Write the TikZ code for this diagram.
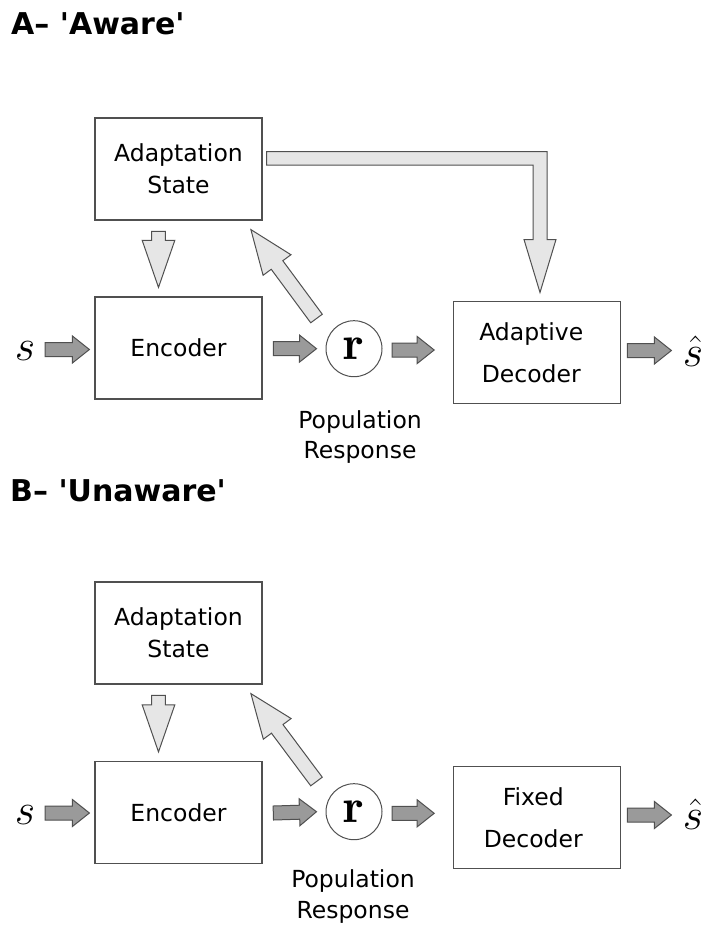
\RequirePackage{fix-cm}
\documentclass[tikz,border=0pt]{standalone}
\usepackage{fontspec}
\newfontfamily\lab{DejaVu Sans}[Ligatures=TeXOff]
\usetikzlibrary{calc}
\definecolor{edge}{HTML}{505050}
\definecolor{darkfill}{HTML}{9A9A9A}
\definecolor{lightfill}{HTML}{E6E6E6}
% block arrow: #1 style, #2 tail, #3 tip, #4 half shaft, #5 half head, #6 head length
\newcommand\blk[6]{%
  \coordinate (bkH) at ($(#3)!#6!(#2)$);
  \draw[#1] ($(#2)!#4!90:(#3)$) -- ($(bkH)!#4!90:(#3)$) -- ($(bkH)!#5!90:(#3)$) -- (#3)
    -- ($(bkH)!#5!-90:(#3)$) -- ($(bkH)!#4!-90:(#3)$) -- ($(#2)!#4!-90:(#3)$) -- cycle;}
\begin{document}
\begin{tikzpicture}[x=1pt,y=-1pt,
  box/.style={draw=edge,line width=1.2pt,minimum width=167pt,minimum height=102pt,align=center,inner sep=0pt},
  lab2/.style={font=\lab\fontsize{23.5}{32}\selectfont},
  lab3/.style={font=\lab\fontsize{23.5}{41.6}\selectfont},
  ttl/.style={anchor=west,inner sep=0pt,font=\lab\bfseries\fontsize{30}{30}\selectfont},
  rnode/.style={circle,draw=edge,line width=1pt,minimum size=56pt,inner sep=0pt,font=\fontsize{48}{48}\selectfont},
  mathlab/.style={anchor=base,inner sep=0pt,font=\fontsize{44}{44}\selectfont},
  pop/.style={align=center,inner sep=0pt,font=\lab\fontsize{23.5}{30.5}\selectfont},
  dark/.style={draw=edge,fill=darkfill,line width=1pt,line join=miter},
  light/.style={draw=edge,fill=lightfill,line width=1pt,line join=miter}]
\useasboundingbox[fill=white] (0,0) rectangle (712,937);

% ---------------- Panel A ----------------
\node[ttl] (tA) at (11,24) {A– 'Aware'};
\node[box,lab2] (adA) at (178.5,169) {Adaptation\\State};
\node[box,lab2] (encA) at (178.5,348) {Encoder};
\node[rnode] (rA) at (354,348.7) {$\mathbf{r}$};
\node[box,lab3] (decA) at (537.3,352.5) {\hspace*{-12pt}Adaptive\\\hspace*{-12pt}Decoder};
\node[mathlab] (sA) at (25,360) {$s$};
\node[mathlab] (shA) at (693,366) {$\hat{s}$};
\node[pop] (popA) at (360,437) {Population\\Response};

\coordinate (a1t) at ($(encA.west)+(-49.3,1.5)$);
\coordinate (a1h) at ($(encA.west)+(-5,1.5)$);
\blk{dark}{a1t}{a1h}{7pt}{13.5pt}{17pt}
\coordinate (a2t) at ($(encA.east)+(10.7,0.5)$);
\coordinate (a2h) at ($(rA.west)+(-9,0)$);
\blk{dark}{a2t}{a2h}{7pt}{13.5pt}{17pt}
\coordinate (a3t) at ($(rA.east)+(9.7,1.3)$);
\coordinate (a3h) at ($(decA.west)+(-19,-2.5)$);
\blk{dark}{a3t}{a3h}{7pt}{13.5pt}{17pt}
\coordinate (a4t) at ($(decA.east)+(6,-2)$);
\coordinate (a4h) at ($(decA.east)+(50,-2)$);
\blk{dark}{a4t}{a4h}{7pt}{13.5pt}{17pt}
\coordinate (a5t) at ($(adA.south)+(-20,10.7)$);
\coordinate (a5h) at ($(encA.north)+(-20,-9)$);
\blk{light}{a5t}{a5h}{6.8pt}{16.3pt}{47pt}
\coordinate (a6t) at ($(rA.center)+(-37.5,-30.2)$);
\coordinate (a6h) at ($(adA.south east)+(-11.7,9)$);
\blk{light}{a6t}{a6h}{7.2pt}{17.3pt}{44pt}
% elbow arrow from adaptation state to adaptive decoder
\coordinate (E0) at ($(adA.east)+(4,-10.7)$);
\coordinate (ET) at ($(decA.north)+(2.7,-8.4)$);
\coordinate (E1) at ($(E0)+(0,-6.7)$);
\coordinate (E4) at ($(E0)+(0,6.7)$);
\coordinate (E2) at ($(ET)+(7,-53)$);
\coordinate (E3) at ($(ET)+(-7,-53)$);
\draw[light] (E1) -- (E2 |- E1) -- (E2) -- ($(ET)+(16,-53)$) -- (ET) -- ($(ET)+(-16,-53)$) -- (E3) -- (E3 |- E4) -- (E4) -- cycle;

% ---------------- Panel B ----------------
\node[ttl] (tB) at (10,491) {B– 'Unaware'};
\node[box,lab2] (adB) at (178.5,633) {Adaptation\\State};
\node[box,lab2] (encB) at (178.5,812.5) {Encoder};
\node[rnode] (rB) at (354,811.7) {$\mathbf{r}$};
\node[box,lab3] (decB) at (537.3,817.5) {\hspace*{-8pt}Fixed\\\hspace*{-8pt}Decoder};
\node[mathlab] (sB) at (25,824) {$s$};
\node[mathlab] (shB) at (693,829) {$\hat{s}$};
\node[pop] (popB) at (353,896.7) {Population\\Response};

\coordinate (b1t) at ($(encB.west)+(-49.3,0.5)$);
\coordinate (b1h) at ($(encB.west)+(-5,0.5)$);
\blk{dark}{b1t}{b1h}{7pt}{13.5pt}{17pt}
\coordinate (b2t) at ($(encB.east)+(10.7,0.5)$);
\coordinate (b2h) at ($(rB.west)+(-9,0)$);
\blk{dark}{b2t}{b2h}{7pt}{13.5pt}{17pt}
\coordinate (b3t) at ($(rB.east)+(9.7,1.6)$);
\coordinate (b3h) at ($(decB.west)+(-19,-4.2)$);
\blk{dark}{b3t}{b3h}{7pt}{13.5pt}{17pt}
\coordinate (b4t) at ($(decB.east)+(6,-2.5)$);
\coordinate (b4h) at ($(decB.east)+(50,-2.5)$);
\blk{dark}{b4t}{b4h}{7pt}{13.5pt}{17pt}
\coordinate (b5t) at ($(adB.south)+(-20,10.7)$);
\coordinate (b5h) at ($(encB.north)+(-20,-9)$);
\blk{light}{b5t}{b5h}{6.8pt}{16.3pt}{47pt}
\coordinate (b6t) at ($(rB.center)+(-37.5,-30.2)$);
\coordinate (b6h) at ($(adB.south east)+(-11.7,9)$);
\blk{light}{b6t}{b6h}{7.2pt}{17.3pt}{44pt}
\end{tikzpicture}
\end{document}
